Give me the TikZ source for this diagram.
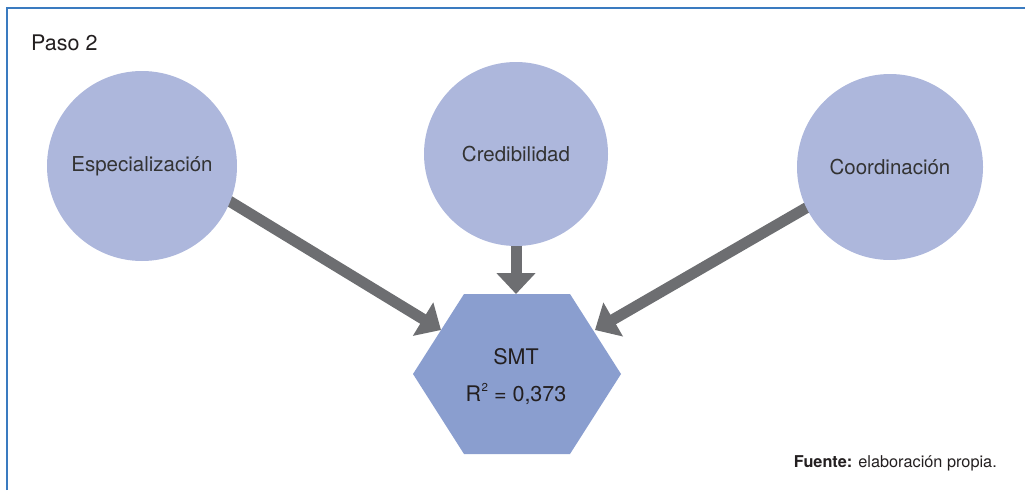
\documentclass[tikz,border=0pt]{standalone}
\usepackage{fontspec}
\setmainfont{TeX Gyre Heros}
\usetikzlibrary{arrows.meta,calc}
\definecolor{frameblue}{HTML}{3A7BC0}
\definecolor{circfill}{HTML}{ADB7DC}
\definecolor{hexfill}{HTML}{8A9ECF}
\definecolor{arrgray}{HTML}{6D6E71}
\definecolor{txt}{HTML}{231F20}
\definecolor{lighttxt}{HTML}{333333}
\pgfdeclarelayer{bg}
\pgfsetlayers{bg,main}
\begin{document}
\begin{tikzpicture}[x=1pt,y=-1pt,
  circ/.style={circle, fill=circfill, minimum size=#1, inner sep=0pt, text=lighttxt, font=\fontsize{20.5}{24}\selectfont},
  conn/.style={draw=arrgray, line width=11pt, -{Triangle[length=21pt,width=38pt]}},
  hextext/.style={text=txt, inner sep=0pt, font=\fontsize{21.5}{25}\selectfont},
]
\useasboundingbox (0,0) rectangle (1025,490);
\draw[frameblue, line width=2pt] (7,490) -- (7,8) -- (1026,8);

\node[anchor=base west, text=txt, inner sep=0pt, font=\fontsize{21.5}{25}\selectfont] (title) at (31,50) {Paso 2};

\node[circ=190pt] (esp) at (142,166) {Especialización};
\node[circ=184pt] (cred) at (516,154) {Credibilidad};
\node[circ=186pt] (coo) at (890,167) {Coordinación};

\fill[hexfill] (464,294) -- (570,294) -- (621,374) -- (570,454) -- (464,454) -- (413,374) -- cycle;
\node[hextext] (smt) at (516,357) {SMT};
\node[hextext] (r2) at (516,394) {R\kern0.5pt\raisebox{0.42em}{\fontsize{11.5}{12}\selectfont 2} = 0,373};

\coordinate (tipL) at (441,330);
\coordinate (tipM) at (516,294);
\coordinate (tipR) at (595,330);

\begin{pgfonlayer}{bg}
\draw[conn] ($(esp.-22)!-12pt!(tipL)$) -- (tipL);
\draw[conn] ($(cred.south)!-12pt!(tipM)$) -- (tipM);
\draw[conn] ($(coo.-154)!-12pt!(tipR)$) -- (tipR);
\end{pgfonlayer}

\node[anchor=base east, text=txt, inner sep=0pt, font=\fontsize{16.3}{19}\selectfont] (src) at (997,467) {\textbf{Fuente:} elaboración propia.};
\end{tikzpicture}
\end{document}
